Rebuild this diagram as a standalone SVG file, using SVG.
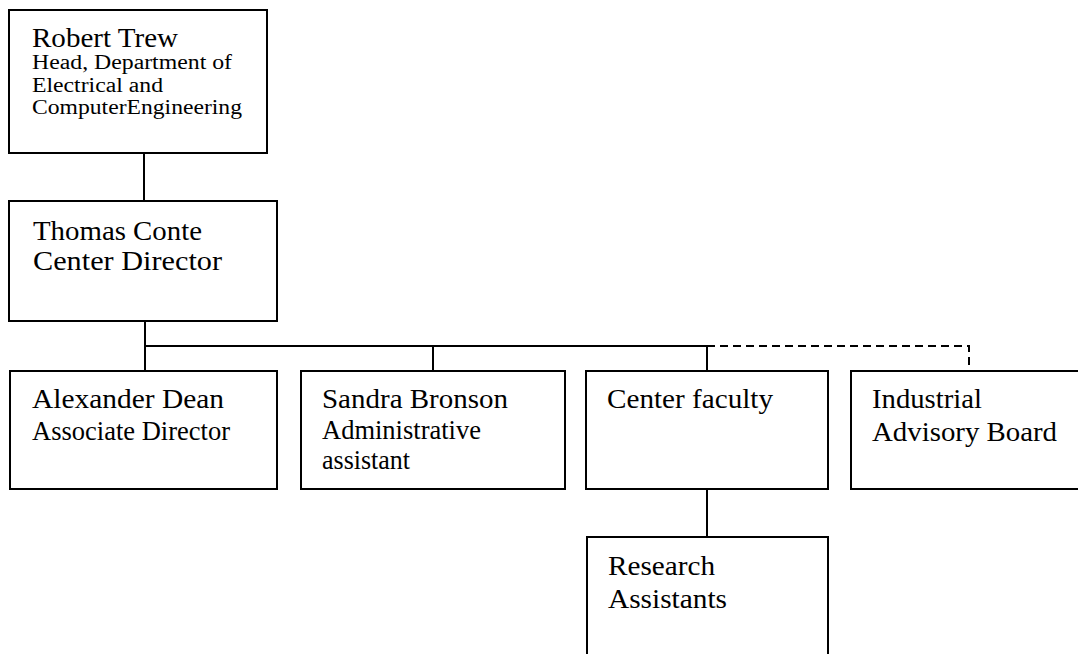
<svg xmlns="http://www.w3.org/2000/svg" width="1078" height="654" viewBox="0 0 1078 654">
<style>
.box{fill:#fff;stroke:#000;stroke-width:2}
.t{font-family:"Liberation Serif","Times New Roman",serif;font-size:28px;fill:#000}
.s{font-family:"Liberation Serif","Times New Roman",serif;font-size:20.5px;fill:#000}
.c{fill:none;stroke:#000;stroke-width:2}
.d{fill:none;stroke:#000;stroke-width:2;stroke-dasharray:8 5}
</style>
<rect width="1078" height="654" fill="#fff"/>
<g id="connectors">
<line class="c" x1="144" y1="153" x2="144" y2="201"/>
<line class="c" x1="145" y1="321" x2="145" y2="371"/>
<line class="c" x1="145" y1="346" x2="707" y2="346"/>
<line class="c" x1="433" y1="346" x2="433" y2="371"/>
<line class="c" x1="707" y1="346" x2="707" y2="371"/>
<polyline class="d" points="707,346 969,346 969,371"/>
<line class="c" x1="707" y1="489" x2="707" y2="537"/>
</g>
<g id="robert-trew">
<rect class="box" x="9" y="10" width="258" height="143"/>
<text class="t" x="32" y="47" textLength="146" lengthAdjust="spacingAndGlyphs">Robert Trew</text>
<text class="s" x="32" y="69" textLength="200" lengthAdjust="spacingAndGlyphs">Head, Department of</text>
<text class="s" x="32" y="91.5" textLength="131" lengthAdjust="spacingAndGlyphs">Electrical and</text>
<text class="s" x="32" y="114" textLength="210" lengthAdjust="spacingAndGlyphs">ComputerEngineering</text>
</g>
<g id="thomas-conte">
<rect class="box" x="9" y="201" width="268" height="120"/>
<text class="t" x="33" y="240" textLength="169" lengthAdjust="spacingAndGlyphs">Thomas Conte</text>
<text class="t" x="33" y="270" textLength="189" lengthAdjust="spacingAndGlyphs">Center Director</text>
</g>
<g id="alexander-dean">
<rect class="box" x="10" y="371" width="267" height="118"/>
<text class="t" x="32" y="408" textLength="192" lengthAdjust="spacingAndGlyphs">Alexander Dean</text>
<text class="t" x="32" y="440" textLength="198" lengthAdjust="spacingAndGlyphs">Associate Director</text>
</g>
<g id="sandra-bronson">
<rect class="box" x="301" y="371" width="264" height="118"/>
<text class="t" x="322" y="408" textLength="186" lengthAdjust="spacingAndGlyphs">Sandra Bronson</text>
<text class="t" x="322" y="439" textLength="159" lengthAdjust="spacingAndGlyphs">Administrative</text>
<text class="t" x="322" y="469" textLength="88" lengthAdjust="spacingAndGlyphs">assistant</text>
</g>
<g id="center-faculty">
<rect class="box" x="586" y="371" width="242" height="118"/>
<text class="t" x="607" y="408" textLength="166" lengthAdjust="spacingAndGlyphs">Center faculty</text>
</g>
<g id="industrial-advisory-board">
<rect class="box" x="851" y="371" width="240" height="118"/>
<text class="t" x="872" y="408" textLength="110" lengthAdjust="spacingAndGlyphs">Industrial</text>
<text class="t" x="872" y="441" textLength="185" lengthAdjust="spacingAndGlyphs">Advisory Board</text>
</g>
<g id="research-assistants">
<rect class="box" x="587" y="537" width="241" height="130"/>
<text class="t" x="608" y="575" textLength="107" lengthAdjust="spacingAndGlyphs">Research</text>
<text class="t" x="608" y="608" textLength="119" lengthAdjust="spacingAndGlyphs">Assistants</text>
</g>
</svg>
